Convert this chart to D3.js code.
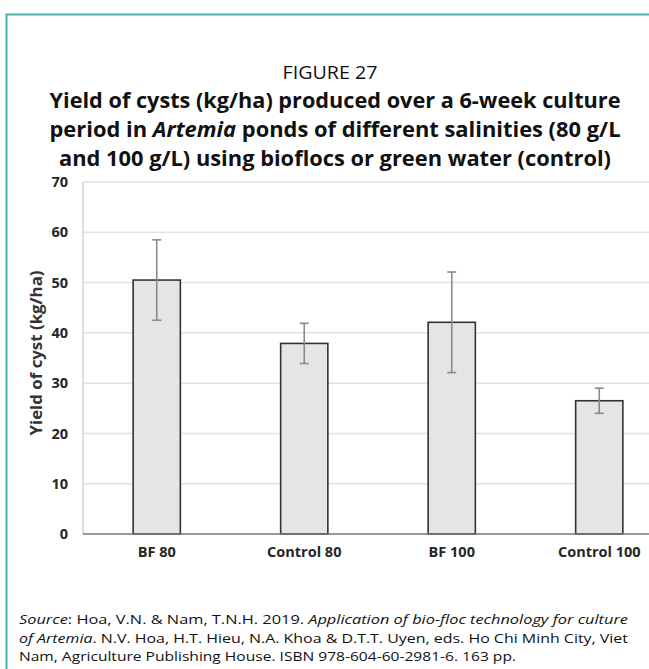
<!DOCTYPE html>
<html>
<head>
<meta charset="utf-8">
<script src="https://cdn.jsdelivr.net/npm/d3@7"></script>
<style>
  html, body { margin: 0; padding: 0; background: #fff; }
  svg { display: block; }
</style>
</head>
<body>
<script>
// Cyst yield per treatment (kg/ha), mean and standard deviation
const categories = ["BF 80", "Control 80", "BF 100", "Control 100"];
const yieldMean = [50.5, 37.9, 42.1, 26.5];
const yieldSD = [8.0, 4.0, 10.0, 2.5];
const yTicks = [0, 10, 20, 30, 40, 50, 60, 70];

const W = 649, H = 669;
const svg = d3.select("body").append("svg").attr("width", W).attr("height", H);

// Frame around the figure
svg.append("path")
  .attr("d", `M6.5,${H} V14.5 H${W}`)
  .attr("fill", "none").attr("stroke", "#4bb0aa").attr("stroke-width", 2);

const font = "'Open Sans', 'Noto Sans', sans-serif";

// Heading
svg.append("text").attr("x", 330).attr("y", 79).attr("text-anchor", "middle")
  .style("font-family", font).style("font-size", "19px").attr("fill", "#111")
  .attr("textLength", 95).attr("lengthAdjust", "spacingAndGlyphs")
  .text("FIGURE 27");

const titleLines = [
  [{t: "Yield of cysts (kg/ha) produced over a 6-week culture"}],
  [{t: "period in "}, {t: "Artemia", i: true}, {t: " ponds of different salinities (80 g/L"}],
  [{t: "and 100 g/L) using bioflocs or green water (control)"}]
];
const titleY = [108, 137, 166];
const titleW = [571, 571, 552];
titleLines.forEach((parts, k) => {
  const t = svg.append("text").attr("x", 335).attr("y", titleY[k]).attr("text-anchor", "middle")
    .style("font-family", font).style("font-size", "20.5px").style("font-weight", "bold")
    .attr("fill", "#111")
    .attr("textLength", titleW[k]).attr("lengthAdjust", "spacingAndGlyphs");
  parts.forEach(p => t.append("tspan").style("font-style", p.i ? "italic" : "normal").text(p.t));
});

// Plot area
const x0 = 83, yTop = 182, yBot = 534;
const x = d3.scaleBand().domain(categories).range([x0, x0 + 4 * 147.5]).paddingInner(0.68).paddingOuter(0.34);
const y = d3.scaleLinear().domain([0, 70]).range([yBot, yTop]);

const g = svg.append("g");

// Horizontal gridlines
g.selectAll("line.grid").data(yTicks.filter(v => v > 0)).join("line")
  .attr("class", "grid")
  .attr("x1", x0).attr("x2", W)
  .attr("y1", d => y(d)).attr("y2", d => y(d))
  .attr("stroke", "#e2e2e2").attr("stroke-width", 1.5);

g.append("line").attr("x1", x0).attr("x2", x0).attr("y1", yTop).attr("y2", yBot)
  .attr("stroke", "#d4d4d4").attr("stroke-width", 1.5);

// Y axis labels
const yAxis = d3.axisLeft(y).tickValues(yTicks).tickSize(0).tickPadding(0).tickFormat(d3.format("d"));
const ya = svg.append("g").attr("transform", `translate(68,0)`).call(yAxis);
ya.select(".domain").remove();
ya.selectAll("text").style("font-family", font).style("font-size", "14.5px")
  .style("font-weight", "bold").attr("fill", "#262626");

// Bars
g.selectAll("rect.bar").data(categories).join("rect")
  .attr("class", "bar")
  .attr("x", d => x(d)).attr("width", x.bandwidth())
  .attr("y", (d, i) => y(yieldMean[i]))
  .attr("height", (d, i) => yBot - y(yieldMean[i]))
  .attr("fill", "#e6e4e6").attr("stroke", "#333").attr("stroke-width", 1.6);

// Baseline
g.append("line").attr("x1", x0).attr("x2", W).attr("y1", yBot).attr("y2", yBot)
  .attr("stroke", "#777").attr("stroke-width", 1.6);

// Error bars (±SD)
const eb = g.selectAll("g.err").data(categories).join("g").attr("class", "err")
  .attr("stroke", "#8a8a8a").attr("stroke-width", 1.6);
const cx = d => x(d) + x.bandwidth() / 2;
eb.append("line").attr("x1", cx).attr("x2", cx)
  .attr("y1", (d, i) => y(yieldMean[i] + yieldSD[i]))
  .attr("y2", (d, i) => y(yieldMean[i] - yieldSD[i]));
[1, -1].forEach(s => {
  eb.append("line")
    .attr("x1", d => cx(d) - 4.5).attr("x2", d => cx(d) + 4.5)
    .attr("y1", (d, i) => y(yieldMean[i] + s * yieldSD[i]))
    .attr("y2", (d, i) => y(yieldMean[i] + s * yieldSD[i]));
});

// Category labels
const xAxis = d3.axisBottom(x).tickSize(0).tickPadding(0);
const xa = svg.append("g").attr("transform", `translate(0,547)`).call(xAxis);
xa.select(".domain").remove();
xa.selectAll("text").style("font-family", font).style("font-size", "14.5px")
  .style("font-weight", "bold").attr("fill", "#262626");

// Y axis title
svg.append("text")
  .attr("transform", "translate(42,353) rotate(-90)")
  .attr("text-anchor", "middle")
  .style("font-family", font).style("font-size", "16px").style("font-weight", "bold")
  .attr("fill", "#333")
  .attr("textLength", 165).attr("lengthAdjust", "spacingAndGlyphs")
  .text("Yield of cyst (kg/ha)");

// Source note
const srcLines = [
  [{t: "Source", i: true}, {t: ": Hoa, V.N. & Nam, T.N.H. 2019. "}, {t: "Application of bio-floc technology for culture", i: true}],
  [{t: "of Artemia", i: true}, {t: ". N.V. Hoa, H.T. Hieu, N.A. Khoa & D.T.T. Uyen, eds. Ho Chi Minh City, Viet"}],
  [{t: "Nam, Agriculture Publishing House. ISBN 978-604-60-2981-6. 163 pp."}]
];
const srcY = [624, 643, 661];
const srcW = [609, 609, 497];
srcLines.forEach((parts, k) => {
  const t = svg.append("text").attr("x", 19).attr("y", srcY[k])
    .style("font-family", font).style("font-size", "13.5px").attr("fill", "#111")
    .attr("textLength", srcW[k]).attr("lengthAdjust", "spacingAndGlyphs");
  parts.forEach(p => t.append("tspan").style("font-style", p.i ? "italic" : "normal").text(p.t));
});
</script>
</body>
</html>
